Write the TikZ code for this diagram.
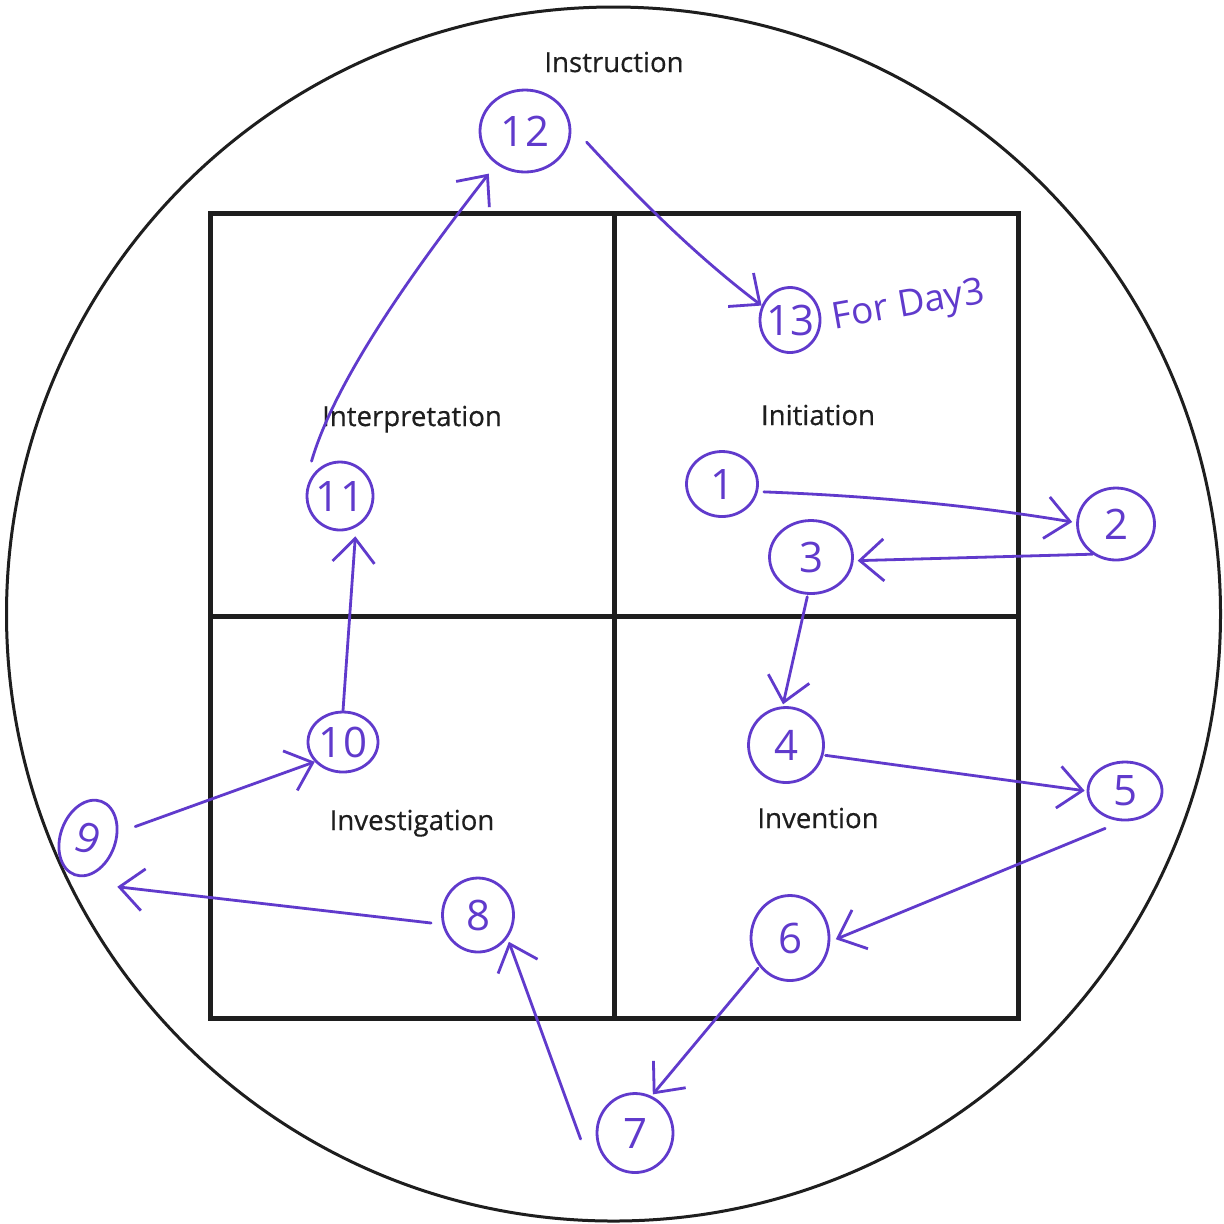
\documentclass[tikz,border=0pt]{standalone}
\usepackage{fontspec}
\setmainfont{Open Sans}
\newfontfamily\labfont[FakeBold=0.5]{Open Sans}
\usetikzlibrary{shapes.geometric,arrows.meta}
\definecolor{hand}{RGB}{96,58,204}
\definecolor{ink}{RGB}{30,30,30}
\newcommand\numtxt[1]{\makebox[0pt]{#1}}
\tikzset{
  num/.style={ellipse, draw=hand, line width=1.4pt, text=hand, inner sep=0pt,
              font=\fontsize{21}{21}\selectfont},
  arr/.style={draw=hand, line width=1.4pt, line cap=round,
              -{Straight Barb[length=12pt,width=21pt,line width=1.4pt]}},
  lab/.style={anchor=base, text=ink, font=\labfont\fontsize{13.8}{14}\selectfont},
  handtext/.style={text=hand, font=\fontsize{18.5}{18.5}\selectfont},
  frame/.style={draw=ink, line width=2.5pt}
}
\begin{document}
\begin{tikzpicture}[x=0.5pt,y=-0.5pt]
\useasboundingbox (0,0) rectangle (1224,1223);
\fill[white] (0,0) rectangle (1224,1223);
% outer circle and grid
\draw[ink, line width=1.5pt] (613.5,614) circle [radius=303.5pt];
\draw[frame] (210,213) rectangle (1018,1018);
\draw[frame] (614,213) -- (614,1018);
\draw[frame] (210,616) -- (1018,616);
% labels
\node[lab] (instr) at (614,72) {Instruction};
\node[lab] (interp) at (412,426) {Interpretation};
\node[lab] (init) at (818,425) {Initiation};
\node[lab] (invest) at (412,830) {Investigation};
\node[lab] (invent) at (818,828) {Invention};
% circled numbers
\node[num, minimum width=35.5pt, minimum height=32.5pt] (n1) at (722,484) {\numtxt{1}};
\node[num, minimum width=38.5pt, minimum height=36pt] (n2) at (1116,524) {\numtxt{2}};
\node[num, minimum width=41.5pt, minimum height=36.5pt] (n3) at (811,557) {\numtxt{3}};
\node[num, minimum width=37.5pt, minimum height=37.5pt] (n4) at (786,745) {\numtxt{4}};
\node[num, minimum width=37pt, minimum height=29pt] (n5) at (1125,791) {\numtxt{5}};
\node[num, minimum width=39pt, minimum height=42.5pt] (n6) at (790,938) {\numtxt{6}};
\node[num, minimum width=38pt, minimum height=39.5pt] (n7) at (635,1133) {\numtxt{7}};
\node[num, minimum width=35.5pt, minimum height=37pt] (n8) at (478,915) {\numtxt{8}};
\node[num, rotate=-20, minimum width=27.5pt, minimum height=39pt] (n9) at (88,838) {\numtxt{9}};
\node[num, minimum width=35pt, minimum height=30pt] (n10) at (343,742) {\numtxt{10}};
\node[num, minimum width=33pt, minimum height=34pt] (n11) at (340,496) {\numtxt{11}};
\node[num, minimum width=45pt, minimum height=41pt] (n12) at (525,131) {\numtxt{12}};
\node[num, minimum width=30pt, minimum height=32.5pt] (n13) at (790,320) {\numtxt{13}};
\node[handtext, rotate=10] (day) at (909,307) {For Day3};
% arrows
\draw[arr, shorten <=3pt, shorten >=2pt] (n1.-12) .. controls (900,497) and (1000,510) .. (n2.178);
\draw[arr, shorten >=2pt] (n2.232) -- (n3.-5);
\draw[arr, shorten <=1pt, shorten >=1pt] (n3.265) -- (n4.95);
\draw[arr, shorten <=1pt, shorten >=1pt] (n4.-15) -- (n5.180);
\draw[arr, shorten >=3pt] ([shift={(-6,9)}]n5.244) -- (n6.-5);
\draw[arr, shorten <=1pt, shorten >=1pt] (n6.223) -- (n7.66);
\draw[arr, shorten >=2pt] ([shift={(-15,6)}]n7.west) -- (n8.-38);
\draw[arr] ([shift={(-10,8)}]n8.west) -- ([shift={(23,13)}]n9.-60);
\draw[arr, shorten <=9pt] (n9.30) -- (n10.215);
\draw[arr, shorten >=4.5pt] (n10.90) -- (n11.-63);
\draw[arr] ([shift={(-6,-8)}]n11.130) .. controls (338,370) and (435,243) .. ([shift={(-8,9)}]n12.230);
\draw[arr] ([shift={(16,3)}]n12.-10) .. controls (640,200) and (695,255) .. (n13.153);
\end{tikzpicture}
\end{document}
